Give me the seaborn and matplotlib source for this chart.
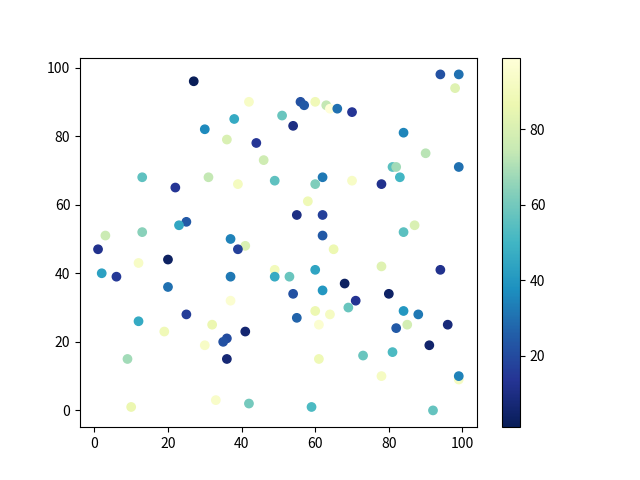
import matplotlib
matplotlib.use("Agg")
import matplotlib.pyplot as plt
import seaborn as sns

x = [27, 42, 38, 30, 36, 44, 46, 13, 22, 31, 39, 49, 25, 23, 3, 13, 37, 41, 1, 39,
     12, 20, 2, 6, 20, 37, 49, 49, 37, 25, 12, 19, 32, 30, 36, 35, 41, 36, 9, 10,
     33, 42, 62, 65, 53, 60, 78, 94, 68, 80, 54, 62, 71, 60, 64, 69, 84, 88, 85, 82,
     96, 55, 61, 91, 61, 73, 81, 78, 99, 99, 59, 92, 94, 99, 98, 56, 57, 60, 63, 64,
     66, 70, 51, 54, 84, 90, 99, 81, 82, 83, 78, 70, 62, 60, 58, 55, 62, 84, 87]
y = [96, 90, 85, 82, 79, 78, 73, 68, 65, 68, 66, 67, 55, 54, 51, 52, 50, 48, 47, 47,
     43, 44, 40, 39, 36, 39, 41, 39, 32, 28, 26, 23, 25, 19, 21, 20, 23, 15, 15, 1,
     3, 2, 51, 47, 39, 41, 42, 41, 37, 34, 34, 35, 32, 29, 28, 30, 29, 28, 25, 24,
     25, 27, 25, 19, 15, 16, 17, 10, 9, 10, 1, 0, 98, 98, 94, 90, 89, 90, 89, 88,
     88, 87, 86, 83, 81, 75, 71, 71, 71, 68, 66, 67, 68, 66, 61, 57, 57, 52, 54]
c = [1, 93, 46, 36, 80, 14, 77, 56, 14, 74, 91, 56, 24, 45, 76, 64, 34, 80, 12, 17,
     93, 3, 43, 15, 30, 32, 90, 46, 96, 16, 46, 89, 86, 93, 20, 22, 6, 7, 68, 86,
     94, 60, 24, 87, 58, 44, 82, 12, 3, 4, 22, 40, 13, 87, 92, 58, 40, 32, 78, 24,
     8, 27, 96, 5, 88, 58, 52, 92, 92, 34, 52, 57, 22, 30, 82, 22, 24, 89, 74, 99,
     30, 14, 58, 10, 35, 72, 30, 55, 68, 50, 12, 93, 32, 62, 88, 10, 17, 55, 80]

plt.rcParams['font.family'] = ['Noto Sans CJK SC', 'DejaVu Sans']

fig, ax = plt.subplots(figsize=(6.4, 4.8), dpi=100)
sns.scatterplot(x=x, y=y, hue=c, palette='YlGnBu_r', hue_norm=(min(c), max(c)),
                s=36, edgecolor='face', linewidth=1, legend=False, ax=ax)

sm = plt.cm.ScalarMappable(cmap='YlGnBu_r', norm=plt.Normalize(min(c), max(c)))
fig.colorbar(sm, ax=ax)

fig.savefig('out.png')
